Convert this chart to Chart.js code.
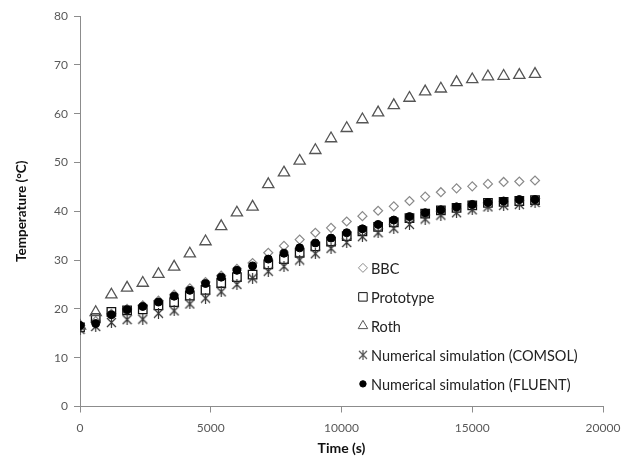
<!DOCTYPE html>
<html>
<head>
<meta charset="utf-8">
<script src="https://cdn.jsdelivr.net/npm/chart.js@4.4.0/dist/chart.umd.min.js"></script>
<style>
  html, body { margin: 0; padding: 0; background: #fff; }
  #wrap { width: 638px; height: 472px; }
</style>
</head>
<body>
<div id="wrap"><canvas id="tempChart" width="638" height="472"></canvas></div>
<script>
const timeValues = [0, 600, 1200, 1800, 2400, 3000, 3600, 4200, 4800, 5400,
  6000, 6600, 7200, 7800, 8400, 9000, 9600, 10200, 10800, 11400,
  12000, 12600, 13200, 13800, 14400, 15000, 15600, 16200, 16800, 17400];

const bbcValues = [16.5, 17.5, 19.0, 20.0, 20.7, 21.7, 22.9, 24.2, 25.5, 26.8,
  28.2, 29.4, 31.5, 32.9, 34.2, 35.6, 36.6, 37.9, 39.0, 40.1,
  41.0, 42.1, 43.0, 43.9, 44.7, 45.1, 45.6, 46.0, 46.1, 46.3];

const prototypeValues = [16.2, 18.1, 19.4, 19.7, 19.9, 20.7, 21.4, 22.7, 23.9, 25.3,
  26.5, 27.0, 29.1, 30.2, 31.5, 32.8, 33.8, 34.9, 35.9, 36.8,
  37.7, 38.6, 39.5, 40.2, 40.7, 41.2, 41.7, 41.9, 42.1, 42.3];

const rothValues = [16.5, 19.3, 22.9, 24.3, 25.3, 27.1, 28.6, 31.3, 33.8, 36.9,
  39.7, 40.9, 45.5, 47.9, 50.3, 52.5, 54.9, 57.0, 58.8, 60.2,
  61.7, 63.2, 64.5, 65.1, 66.4, 67.0, 67.6, 67.7, 67.9, 68.1];

const comsolValues = [15.8, 16.4, 17.2, 17.8, 17.9, 19.1, 19.6, 21.0, 22.2, 23.5,
  25.0, 26.3, 27.7, 28.7, 30.0, 31.3, 32.4, 33.6, 34.8, 35.6,
  36.5, 37.3, 38.4, 39.2, 39.7, 40.3, 40.9, 41.2, 41.4, 41.8];

const fluentValues = [16.6, 17.0, 18.8, 19.8, 20.5, 21.4, 22.6, 23.8, 25.2, 26.5,
  27.9, 28.8, 30.2, 31.4, 32.5, 33.5, 34.5, 35.6, 36.4, 37.3,
  38.2, 38.9, 39.7, 40.3, 40.9, 41.4, 41.8, 42.1, 42.4, 42.4];

const seriesNames = ["BBC", "Prototype", "Roth", "Numerical simulation (COMSOL)", "Numerical simulation (FLUENT)"];
const xTicks = [0, 5000, 10000, 15000, 20000];
const yTicks = [0, 10, 20, 30, 40, 50, 60, 70, 80];

// excel style asterisk marker: X with a vertical bar
function makeStar(size, color) {
  const c = document.createElement("canvas");
  c.width = size;
  c.height = size;
  const g = c.getContext("2d");
  g.strokeStyle = color;
  g.lineWidth = 1.2;
  g.beginPath();
  g.moveTo(1, 1); g.lineTo(size - 1, size - 1);
  g.moveTo(size - 1, 1); g.lineTo(1, size - 1);
  g.moveTo(size / 2, 0); g.lineTo(size / 2, size);
  g.stroke();
  return c;
}

function toPoints(values) {
  return values.map((v, i) => ({ x: timeValues[i], y: v }));
}

const starBig = makeStar(11, "#333");
const starSmall = makeStar(10, "#555");

// order: later excel series sit on top, so they get a lower order
const datasets = [
  { label: seriesNames[0], data: toPoints(bbcValues), pointStyle: "rectRot", pointRadius: 4.5, order: 5,
    borderColor: "#8a8a8a", backgroundColor: "rgba(0,0,0,0)", borderWidth: 1.2 },
  { label: seriesNames[1], data: toPoints(prototypeValues), pointStyle: "rect", pointRadius: 6, order: 4,
    borderColor: "#111", backgroundColor: "rgba(255,255,255,0)", borderWidth: 1.3 },
  { label: seriesNames[2], data: toPoints(rothValues), pointStyle: "triangle", pointRadius: 6.5, order: 3,
    borderColor: "#555", backgroundColor: "rgba(0,0,0,0)", borderWidth: 1.3 },
  { label: seriesNames[3], data: toPoints(comsolValues), pointStyle: starBig, pointRadius: 5, order: 2,
    borderColor: "#333", backgroundColor: "#333" },
  { label: seriesNames[4], data: toPoints(fluentValues), pointStyle: "circle", pointRadius: 4, order: 1,
    borderColor: "#000", backgroundColor: "#000", borderWidth: 1 }
];

// legend drawn inside the plot area like the excel original
const insideLegend = {
  id: "insideLegend",
  afterDraw(chart) {
    const ctx = chart.ctx;
    const area = chart.chartArea;
    const x0 = area.left + (area.right - area.left) * 0.541;
    const y0 = area.top + (area.bottom - area.top) * 0.645;
    const step = 29;
    ctx.save();
    ctx.font = "14.5px Lato";
    ctx.textBaseline = "middle";
    chart.data.datasets.forEach((ds, i) => {
      const y = y0 + i * step;
      let style = ds.pointStyle;
      let r = 4;
      if (style === starBig) style = starSmall;
      if (style === "rect") r = 6;
      if (style === "triangle") r = 5.5;
      if (style === "rectRot") r = 4.5;
      if (style === "circle") r = 3.2;
      ctx.strokeStyle = ds.borderColor;
      ctx.fillStyle = ds.backgroundColor;
      ctx.lineWidth = 1;
      Chart.helpers.drawPoint(ctx, { pointStyle: style, radius: r, borderWidth: 1 }, x0, y);
      ctx.fillStyle = "#222";
      ctx.fillText(ds.label, x0 + 8, y + 1);
    });
    ctx.restore();
  }
};

new Chart("tempChart", {
  type: "scatter",
  data: { datasets: datasets },
  options: {
    responsive: false,
    animation: false,
    layout: { padding: { top: 16, right: 35, left: 10, bottom: 11 } },
    plugins: {
      legend: { display: false },
      tooltip: { enabled: false }
    },
    scales: {
      x: {
        type: "linear",
        min: 0,
        max: 20000,
        afterBuildTicks: (axis) => { axis.ticks = xTicks.map(v => ({ value: v })); },
        afterFit: (axis) => { axis.height = 54.5; },
        grid: { drawOnChartArea: false, color: "#8c8c8c", tickLength: 6 },
        border: { color: "#8c8c8c" },
        ticks: { color: "#595959", font: { family: "Lato", size: 12 }, padding: 8, maxRotation: 0,
          callback: (v) => String(v) },
        title: { display: true, text: "Time (s)", color: "#111", font: { family: "Lato", size: 14, weight: "bold" }, padding: { top: 2 } }
      },
      y: {
        min: 0,
        max: 80,
        afterBuildTicks: (axis) => { axis.ticks = yTicks.map(v => ({ value: v })); },
        afterFit: (axis) => { axis.width = 70; },
        grid: { drawOnChartArea: false, color: "#8c8c8c", tickLength: 6 },
        border: { color: "#8c8c8c" },
        ticks: { color: "#595959", font: { family: "Lato", size: 12 }, padding: 6 },
        title: { display: true, text: "Temperature (°C)", color: "#111", font: { family: "Lato", size: 13.5, weight: "bold" }, padding: { bottom: 4 } }
      }
    }
  },
  plugins: [insideLegend]
});
</script>
</body>
</html>
